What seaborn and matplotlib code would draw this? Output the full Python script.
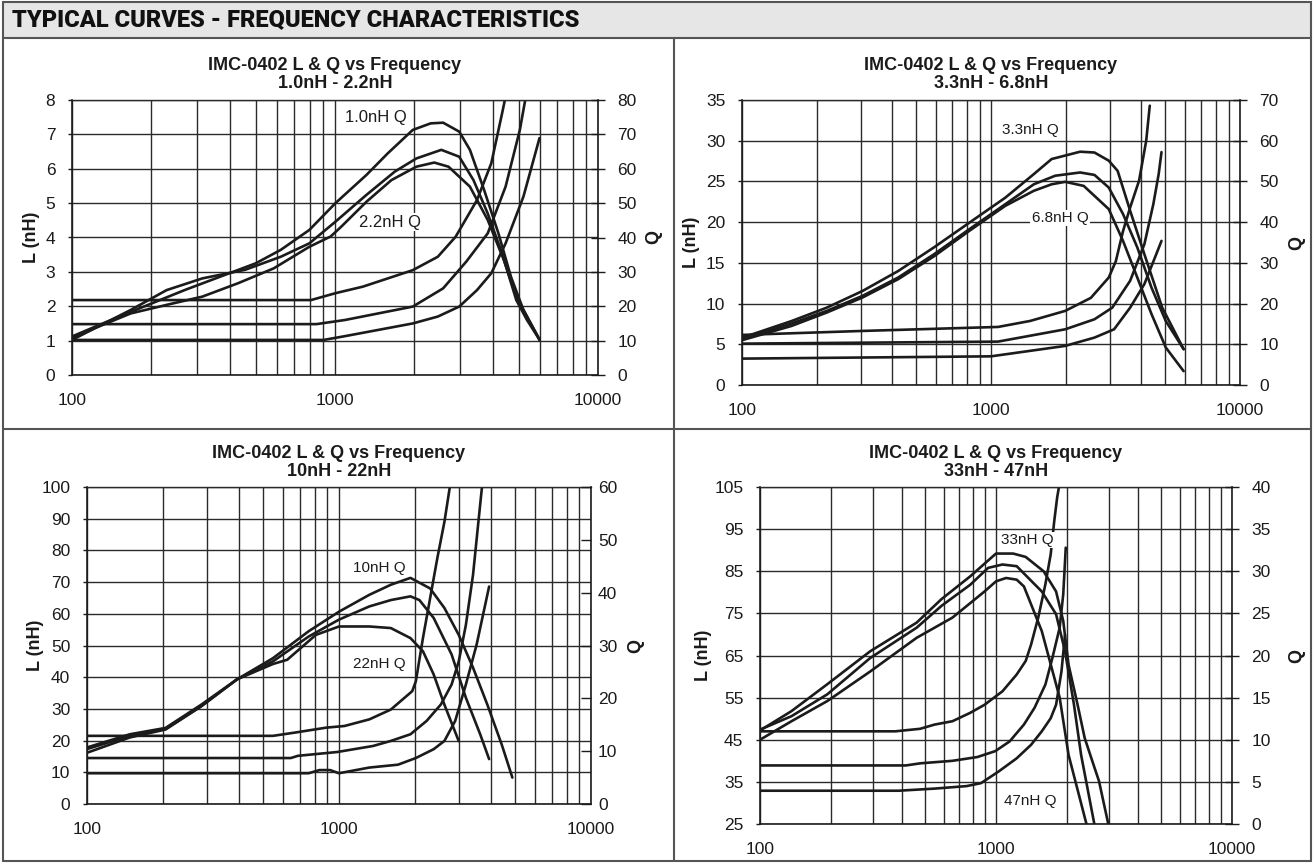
import matplotlib
matplotlib.use("Agg")
import matplotlib.pyplot as plt
import seaborn as sns
from matplotlib.ticker import FixedLocator, FixedFormatter, NullFormatter
from matplotlib.lines import Line2D
from matplotlib.patches import Rectangle

sns.set_theme(style="white")
plt.rcParams['font.family'] = ['Liberation Sans', 'DejaVu Sans']

# ---------------- DATA (frequency in MHz, L in nH, Q) ----------------
x_ticks = [100, 1000, 10000]
x_tick_labels = ["100", "1000", "10000"]

# Panel 1 : 1.0nH - 2.2nH
p1_L22_f = [100, 811, 1004, 1276, 1976, 2460, 2874, 3467, 3929, 4315, 4425]
p1_L22 = [2.18, 2.18, 2.38, 2.57, 3.05, 3.44, 4.02, 5.09, 6.16, 7.6, 8.0]
p1_L15_f = [100, 850, 1091, 1976, 2577, 3157, 3808, 4453, 5045, 5288]
p1_L15 = [1.48, 1.48, 1.6, 1.99, 2.52, 3.3, 4.12, 5.48, 7.13, 8.0]
p1_L10_f = [100, 905, 1091, 1976, 2460, 2967, 3467, 3929, 4453, 5206, 5991]
p1_L10 = [1.02, 1.02, 1.13, 1.5, 1.7, 1.99, 2.47, 2.96, 3.83, 5.19, 6.89]
p1_Q10_f = [100, 122, 157, 202, 268, 366, 500, 622, 799, 1004, 1317, 1588, 1976, 2310, 2577, 2967, 3258, 3691, 4182, 4666, 5206, 6000]
p1_Q10 = [11.2, 14, 17.5, 20.9, 24.7, 28.6, 32.5, 36.4, 42.2, 50, 58.2, 64.5, 71.3, 73.2, 73.4, 70.8, 65.5, 53.8, 41.2, 28.6, 18.9, 10.2]
p1_Q15_f = [100, 122, 167, 229, 313, 455, 622, 799, 1004, 1317, 1690, 2039, 2537, 2967, 3361, 3808, 4315, 4890, 5370, 6000]
p1_Q15 = [10.2, 13.6, 18.9, 24.7, 28.1, 30.6, 34.4, 38.3, 44.6, 52.4, 59.2, 63, 65.5, 63.5, 56.7, 47, 35.4, 21.8, 16, 10.2]
p1_Q22_f = [100, 122, 167, 229, 313, 428, 584, 799, 963, 1058, 1317, 1639, 2039, 2384, 2701, 3258, 3808, 4383, 4890, 6000]
p1_Q22 = [10.7, 13.6, 17.9, 20.4, 22.8, 26.7, 31, 37.3, 40.3, 43.2, 50.4, 56.7, 60.6, 61.8, 60.6, 54.8, 45.1, 33.5, 22.8, 10.2]
p1_L_ticks = [0, 1, 2, 3, 4, 5, 6, 7, 8]
p1_Q_ticks = [0, 10, 20, 30, 40, 50, 60, 70, 80]
p1_notes = [("1.0nH Q", 1430, 74.8), ("2.2nH Q", 1618, 44.5)]

# Panel 2 : 3.3nH - 6.8nH
p2_L68_f = [100, 305, 1068, 1438, 1986, 2518, 2971, 3172, 3390, 3621, 3933, 4201, 4341]
p2_L68 = [6.15, 6.64, 7.13, 7.87, 9.1, 10.7, 13.2, 15.2, 18.9, 21.8, 25.1, 30, 34.3]
p2_L47_f = [100, 1068, 1986, 2603, 3070, 3621, 4131, 4486, 4714, 4839]
p2_L47 = [5.08, 5.33, 6.84, 8.07, 9.5, 12.8, 17.3, 22.2, 25.9, 28.6]
p2_L33_f = [100, 1000, 1986, 2603, 3121, 3621, 4131, 4560, 4839]
p2_L33 = [3.24, 3.52, 4.8, 5.82, 6.84, 9.5, 12.4, 15.7, 17.7]
p2_Q33_f = [100, 158, 219, 305, 424, 590, 820, 1141, 1486, 1752, 2281, 2603, 2971, 3225, 3621, 4131, 4872, 5937]
p2_Q33 = [11.6, 15.7, 19, 23.1, 28, 33.8, 39.9, 46, 51.8, 55.5, 57.3, 57.1, 55.1, 52.6, 42.8, 32.1, 19, 8.8]
p2_Q47_f = [100, 158, 219, 305, 424, 590, 820, 1141, 1486, 1811, 2281, 2603, 2971, 3390, 3868, 4413, 5035, 5937]
p2_Q47 = [11.2, 15.1, 18.2, 21.9, 26.4, 32.1, 38.3, 44.4, 49.3, 51.4, 52.2, 51.6, 48.5, 42, 33.8, 23.9, 15.7, 8.8]
p2_Q68_f = [100, 158, 219, 305, 424, 590, 820, 1141, 1486, 1752, 1986, 2357, 2971, 3390, 3868, 4413, 5035, 5937]
p2_Q68 = [11, 14.5, 17.8, 21.5, 26, 31.6, 37.9, 44, 47.7, 49.3, 49.9, 48.9, 43.2, 35.4, 26.4, 17.4, 9.2, 3.4]
p2_L_ticks = [0, 5, 10, 15, 20, 25, 30, 35]
p2_Q_ticks = [0, 10, 20, 30, 40, 50, 60, 70]
p2_notes = [("3.3nH Q", 1435, 62.6), ("6.8nH Q", 1892, 41.0)]

# Panel 3 : 10nH - 22nH
p3_L22_f = [100, 547, 665, 892, 1050, 1320, 1606, 1953, 2018, 2154, 2299, 2455, 2620, 2753]
p3_L22 = [21.5, 21.5, 22.5, 24.1, 24.6, 26.7, 29.8, 35.6, 38.7, 52.4, 64.9, 77.5, 89, 100]
p3_L15_f = [100, 644, 687, 984, 1364, 1606, 1921, 2226, 2537, 2798, 2987, 3188, 3403, 3574, 3693]
p3_L15 = [14.5, 14.5, 15.2, 16.4, 18.3, 19.9, 22, 26.2, 31.4, 37.7, 45, 56.5, 72.3, 89, 100]
p3_L10_f = [100, 758, 836, 922, 1000, 1320, 1714, 2018, 2376, 2620, 2891, 3188, 3517, 3942]
p3_L10 = [9.7, 9.7, 10.7, 10.7, 9.7, 11.5, 12.4, 14.5, 17.3, 19.9, 26.2, 37.7, 50.3, 68.6]
p3_Q10_f = [100, 148, 205, 284, 394, 547, 758, 1000, 1320, 1606, 1921, 2299, 2620, 2987, 3403, 3879, 4420, 4875]
p3_Q10 = [10.7, 13.2, 14.4, 18.8, 23.6, 27.6, 32.7, 36.4, 39.6, 41.5, 42.8, 40.8, 37.1, 32, 25.8, 18.8, 11.3, 5]
p3_Q15_f = [100, 148, 205, 284, 394, 547, 758, 1000, 1320, 1606, 1921, 2085, 2376, 2798, 3188, 3633, 3942]
p3_Q15 = [10.4, 12.9, 14.2, 18.5, 23.6, 27, 31.7, 34.9, 37.4, 38.6, 39.3, 38.6, 35.2, 28.3, 20.1, 13.2, 8.5]
p3_Q22_f = [100, 148, 205, 284, 394, 547, 623, 809, 1000, 1320, 1606, 1921, 2154, 2376, 2620, 2987]
p3_Q22 = [9.7, 12.6, 14.1, 18.5, 23.6, 26.5, 27.3, 32, 33.6, 33.6, 33.3, 31.4, 28.9, 24.5, 18.8, 11.9]
p3_L_ticks = [0, 10, 20, 30, 40, 50, 60, 70, 80, 90, 100]
p3_Q_ticks = [0, 10, 20, 30, 40, 50, 60]
p3_notes = [("10nH Q", 1442, 44.6), ("22nH Q", 1442, 26.5)]

# Panel 4 : 33nH - 47nH
p4_L47_f = [100, 374, 477, 549, 654, 778, 894, 1065, 1224, 1336, 1408, 1510, 1619, 1705, 1766, 1816, 1848]
p4_L47 = [47, 47, 47.6, 48.6, 49.4, 51.4, 53.3, 56.5, 60.5, 63.7, 67.6, 74, 81.9, 89, 97, 102.5, 105]
p4_L39_f = [100, 415, 477, 654, 834, 993, 1142, 1313, 1457, 1619, 1735, 1861, 1927, 1975]
p4_L39 = [38.9, 38.9, 39.4, 40, 40.9, 42.3, 44.6, 48.6, 52.6, 58.1, 64.5, 71.6, 79.5, 90.6]
p4_L33_f = [100, 387, 549, 751, 864, 1028, 1224, 1408, 1563, 1705, 1797, 1894, 1961]
p4_L33 = [32.9, 32.9, 33.4, 34, 34.7, 37.5, 40.6, 43.8, 47, 50.1, 53.3, 61.2, 69.9]
p4_Q33_f = [100, 136, 193, 293, 461, 588, 778, 1000, 1182, 1336, 1591, 1797, 1927, 2030, 2215, 2376, 2592, 2731, 2991]
p4_Q33 = [11.1, 13.4, 16.6, 20.5, 23.9, 26.7, 29.4, 32.1, 32.1, 31.7, 30, 27.6, 24.1, 18.9, 14.2, 10.2, 7, 5.1, 0]
p4_Q39_f = [100, 136, 193, 293, 461, 588, 778, 926, 1065, 1224, 1563, 1797, 1961, 2139, 2294, 2610]
p4_Q39 = [11.2, 12.8, 15.4, 19.7, 23.3, 25.9, 28.4, 30.4, 30.8, 30.6, 27.6, 24.9, 20.5, 14.2, 8.2, 0]
p4_Q47_f = [100, 136, 193, 293, 461, 654, 894, 1000, 1103, 1224, 1313, 1563, 1861, 2030, 2417]
p4_Q47 = [10, 12.2, 14.6, 18.1, 22.1, 24.5, 27.6, 28.8, 29.2, 29, 28.2, 22.9, 15, 8.2, 0]
p4_L_ticks = [25, 35, 45, 55, 65, 75, 85, 95, 105]
p4_Q_ticks = [0, 5, 10, 15, 20, 25, 30, 35, 40]
p4_notes = [("33nH Q", 1352, 33.7), ("47nH Q", 1393, 2.7)]

header_text = "TYPICAL CURVES - FREQUENCY CHARACTERISTICS"
main_title = "IMC-0402 L & Q vs Frequency"
subtitles = ["1.0nH - 2.2nH", "3.3nH - 6.8nH", "10nH - 22nH", "33nH - 47nH"]

# ---------------- LAYOUT ----------------
W, H = 1314, 863
fig = plt.figure(figsize=(W / 100, H / 100), dpi=100)
INK = "#1b1b1b"
GRID = "#2a2a2a"
FRAME = "#555555"


def px_line(x0, y0, x1, y1, lw=1.5, color=FRAME):
    fig.add_artist(Line2D([x0 / W, x1 / W], [1 - y0 / H, 1 - y1 / H],
                          transform=fig.transFigure, color=color, lw=lw))


def add_panel(box, sub, l_lim, l_ticks, q_lim, q_ticks, l_curves, q_curves,
              notes, note_size, lab_px, q_px, q_tick_dir="inout", q_pad=9):
    left, right, top, bottom = box
    ax = fig.add_axes([left / W, 1 - bottom / H, (right - left) / W, (bottom - top) / H])
    ax.set_xscale("log")
    for f, v in l_curves:
        sns.lineplot(x=f, y=v, ax=ax, color=INK, lw=1.9, sort=False, estimator=None)
    ax.set_xlim(100, 10000)
    ax.set_ylim(*l_lim)
    ax.xaxis.set_major_locator(FixedLocator(x_ticks))
    ax.xaxis.set_major_formatter(FixedFormatter(x_tick_labels))
    ax.xaxis.set_minor_locator(FixedLocator([k * 10 ** d for d in (2, 3) for k in range(2, 10)]))
    ax.xaxis.set_minor_formatter(NullFormatter())
    ax.set_yticks(l_ticks)
    ax.set_yticklabels([str(t) for t in l_ticks])
    ax.grid(True, which="major", axis="both", color=GRID, lw=1.0)
    ax.grid(True, which="minor", axis="x", color=GRID, lw=1.0)
    ax.tick_params(axis="x", which="major", direction="out", length=4, width=1,
                   pad=9, labelsize=12.5, colors=INK)
    ax.tick_params(axis="x", which="minor", length=0)
    ax.tick_params(axis="y", direction="out", length=3, width=1, pad=9,
                   labelsize=12.5, colors=INK)
    for s in ["left", "bottom"]:
        ax.spines[s].set_color(INK)
        ax.spines[s].set_linewidth(1.2)
    ax.spines["top"].set_color(GRID)
    ax.spines["top"].set_linewidth(1.0)
    ax.spines["right"].set_visible(False)
    ax.set_xlabel("")
    ax.set_ylabel("")

    ax2 = ax.twinx()
    for f, v in q_curves:
        sns.lineplot(x=f, y=v, ax=ax2, color=INK, lw=1.9, sort=False, estimator=None)
    ax2.set_xlim(100, 10000)
    ax2.set_ylim(*q_lim)
    ax2.set_yticks(q_ticks)
    ax2.set_yticklabels([str(t) for t in q_ticks])
    ax2.grid(False)
    ax2.tick_params(axis="y", direction=q_tick_dir,
                    length=10 if q_tick_dir == "inout" else 7, width=1, pad=q_pad,
                    labelsize=12.5, colors=INK)
    for s in ["left", "top", "bottom"]:
        ax2.spines[s].set_visible(False)
    ax2.spines["right"].set_color(INK)
    ax2.spines["right"].set_linewidth(1.2)
    ax2.set_xlabel("")
    ax2.set_ylabel("")
    for txt, f, q in notes:
        ax2.text(f, q, txt, ha="center", va="center", fontsize=note_size, color=INK,
                 bbox=dict(facecolor="white", edgecolor="none", pad=1.0), zorder=5)

    mid_y = (top + bottom) / 2
    fig.text(lab_px / W, 1 - mid_y / H, "L (nH)", rotation=90, ha="center", va="center",
             fontsize=13, fontweight="bold", color=INK)
    fig.text(q_px / W, 1 - mid_y / H, "Q", rotation=90, ha="center", va="center",
             fontsize=13, fontweight="bold", color=INK)

    cx = (left + right) / 2
    fig.text(cx / W, 1 - (top - 34) / H, main_title, ha="center", va="center",
             fontsize=13, fontweight="bold", color=INK)
    fig.text(cx / W, 1 - (top - 16) / H, sub, ha="center", va="center",
             fontsize=13, fontweight="bold", color=INK)
    return ax, ax2


add_panel((72, 598, 100, 375), subtitles[0], (0, 8), p1_L_ticks, (0, 80), p1_Q_ticks,
          [(p1_L22_f, p1_L22), (p1_L15_f, p1_L15), (p1_L10_f, p1_L10)],
          [(p1_Q10_f, p1_Q10), (p1_Q15_f, p1_Q15), (p1_Q22_f, p1_Q22)],
          p1_notes, 12, 32, 654)
add_panel((742, 1240, 100, 385), subtitles[1], (0, 35), p2_L_ticks, (0, 70), p2_Q_ticks,
          [(p2_L68_f, p2_L68), (p2_L47_f, p2_L47), (p2_L33_f, p2_L33)],
          [(p2_Q33_f, p2_Q33), (p2_Q47_f, p2_Q47), (p2_Q68_f, p2_Q68)],
          p2_notes, 11, 691, 1297)
add_panel((87, 591, 487, 804), subtitles[2], (0, 100), p3_L_ticks, (0, 60), p3_Q_ticks,
          [(p3_L22_f, p3_L22), (p3_L15_f, p3_L15), (p3_L10_f, p3_L10)],
          [(p3_Q10_f, p3_Q10), (p3_Q15_f, p3_Q15), (p3_Q22_f, p3_Q22)],
          p3_notes, 11, 35, 636, q_tick_dir="in", q_pad=5)
add_panel((760, 1232, 487, 824), subtitles[3], (25, 105), p4_L_ticks, (0, 40), p4_Q_ticks,
          [(p4_L47_f, p4_L47), (p4_L39_f, p4_L39), (p4_L33_f, p4_L33)],
          [(p4_Q33_f, p4_Q33), (p4_Q39_f, p4_Q39), (p4_Q47_f, p4_Q47)],
          p4_notes, 11, 703, 1297)

# header band and frame
fig.add_artist(Rectangle((3 / W, 1 - 38 / H), (1311 - 3) / W, 36 / H, transform=fig.transFigure,
                         facecolor="#e6e6e6", edgecolor=FRAME, lw=1.5))
fig.text(12 / W, 1 - 20 / H, header_text, ha="left", va="center", fontsize=17,
         fontweight="black", color="#111111", family=["Roboto", "DejaVu Sans"])
px_line(3, 38, 3, 861)
px_line(1311, 38, 1311, 861)
px_line(3, 861, 1311, 861)
px_line(674, 38, 674, 861)
px_line(3, 429, 1311, 429)

fig.savefig("out.png", dpi=100)
